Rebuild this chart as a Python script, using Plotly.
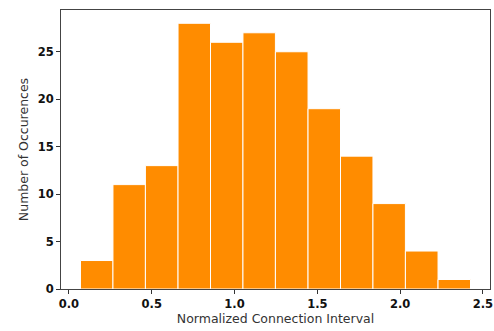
import plotly.graph_objects as go

# Histogram data
bin_edges = [0.07, 0.266, 0.462, 0.659, 0.855, 1.051, 1.247, 1.444, 1.640, 1.836, 2.032, 2.229, 2.425]
counts = [3, 11, 13, 28, 26, 27, 25, 19, 14, 9, 4, 1]
x_ticks = [0.0, 0.5, 1.0, 1.5, 2.0, 2.5]
y_ticks = [0, 5, 10, 15, 20, 25]

centers = [(a + b) / 2 for a, b in zip(bin_edges[:-1], bin_edges[1:])]
widths = [b - a for a, b in zip(bin_edges[:-1], bin_edges[1:])]

fig = go.Figure(go.Bar(
    x=centers, y=counts, width=widths,
    marker=dict(color="#FF8C00", line=dict(color="white", width=1)),
))

span = bin_edges[-1] - bin_edges[0]
fig.update_layout(
    width=494, height=331,
    margin=dict(l=61, r=4, t=10, b=42, autoexpand=False),
    paper_bgcolor="white", plot_bgcolor="white",
    showlegend=False,
    font=dict(family="DejaVu Sans", color="#222"),
    xaxis=dict(
        automargin=False,
        range=[bin_edges[0] - 0.05 * span, bin_edges[-1] + 0.05 * span],
        tickvals=x_ticks, ticktext=[f"{v:.1f}" for v in x_ticks],
        ticks="outside", ticklen=4, tickcolor="#333",
        showline=True, linecolor="#444", linewidth=1, mirror=True,
        showgrid=False, zeroline=False,
        tickfont=dict(size=11.5, color="#111", family="DejaVu Sans", weight="bold"),
        title=dict(text="Normalized Connection Interval", font=dict(size=12.5, color="#333"), standoff=3),
    ),
    yaxis=dict(
        automargin=False,
        range=[0, max(counts) * 1.05],
        tickvals=y_ticks,
        ticks="outside", ticklen=4, tickcolor="#333",
        showline=True, linecolor="#444", linewidth=1, mirror=True,
        showgrid=False, zeroline=False,
        tickfont=dict(size=11.5, color="#111", family="DejaVu Sans", weight="bold"),
        title=dict(text="Number of Occurences", font=dict(size=12.5, color="#333"), standoff=6),
    ),
)

# remove the default page margin so the figure sits at the window's corner
fig.write_html(
    "out.html",
    config={"displayModeBar": False},
    post_script="document.body.style.margin='0';document.body.style.overflow='hidden';",
)
